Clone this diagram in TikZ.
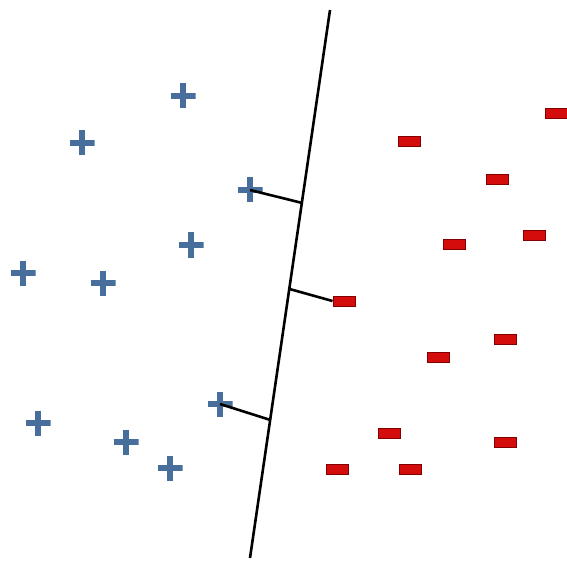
\documentclass[tikz,border=0pt]{standalone}
\usetikzlibrary{calc}
\definecolor{plusblue}{RGB}{72,110,156}
\definecolor{minusred}{RGB}{212,12,12}
\definecolor{minusedge}{RGB}{130,0,0}
\tikzset{
  x=1pt, y=-1pt,
  plussign/.style={minimum size=25pt, inner sep=0pt,
    path picture={
      \draw[plusblue, line width=5.2pt]
        (path picture bounding box.north) -- (path picture bounding box.south)
        (path picture bounding box.west) -- (path picture bounding box.east);
    }},
  minussign/.style={fill=minusred, draw=minusedge, line width=1pt,
    minimum width=22pt, minimum height=10pt, inner sep=0pt},
  sepline/.style={line width=2.6pt, black},
  supportline/.style={line width=2.6pt, black},
}
\begin{document}
\begin{tikzpicture}
\useasboundingbox[fill=white] (0,0) rectangle (567,561);
% separating line
\coordinate (t) at (330,10);
\coordinate (b) at (250,558);
\draw[sepline] (t) -- (b);
\coordinate (f1) at ($(t)!0.352!(b)$);
\coordinate (f2) at ($(t)!0.509!(b)$);
\coordinate (f3) at ($(t)!0.748!(b)$);
% plus signs
\node[plussign] (p1) at (183,96) {};
\node[plussign] (p2) at (82,143) {};
\node[plussign] (p3) at (250,190) {};
\node[plussign] (p4) at (191,245) {};
\node[plussign] (p5) at (23,273) {};
\node[plussign] (p6) at (103,283) {};
\node[plussign] (p7) at (220,404) {};
\node[plussign] (p8) at (38,423) {};
\node[plussign] (p9) at (126,442) {};
\node[plussign] (p10) at (170,468) {};
% minus signs
\node[minussign] (m1) at (409,142) {};
\node[minussign] (m2) at (556,114) {};
\node[minussign] (m3) at (497,180) {};
\node[minussign] (m4) at (454,245) {};
\node[minussign] (m5) at (534,236) {};
\node[minussign] (m6) at (344,301) {};
\node[minussign] (m7) at (438,357) {};
\node[minussign] (m8) at (505,339) {};
\node[minussign] (m9) at (389,433) {};
\node[minussign] (m10) at (505,442) {};
\node[minussign] (m11) at (337,469) {};
\node[minussign] (m12) at (410,469) {};
% support connectors
\draw[supportline] (p3.center) -- (f1);
\draw[supportline] (f2) -- (m6.west);
\draw[supportline] (p7.center) -- (f3);
\end{tikzpicture}
\end{document}
